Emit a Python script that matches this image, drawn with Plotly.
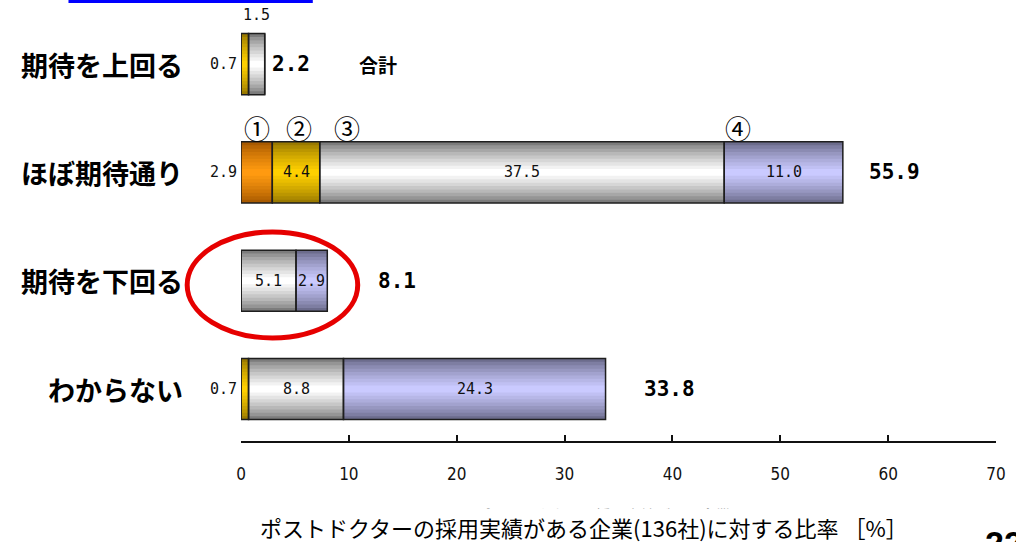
import plotly.graph_objects as go

# Survey categories (rows, top to bottom)
categories = ["期待を上回る", "ほぼ期待通り", "期待を下回る", "わからない"]

# Stacked segment values per series (①..④), one value per category
series_marks = ["①", "②", "③", "④"]
s1_values = [0.0, 2.9, 0.0, 0.0]
s2_values = [0.7, 4.4, 0.0, 0.7]
s3_values = [1.5, 37.5, 5.1, 8.8]
s4_values = [0.0, 11.0, 2.9, 24.3]
totals = [2.2, 55.9, 8.1, 33.8]

x_ticks = [0, 10, 20, 30, 40, 50, 60, 70]

series = [s1_values, s2_values, s3_values, s4_values]

# (edge colour, centre colour) for the cylinder-like shading of each series
palette = [
    ("#a85a00", "#ff9a10"),
    ("#9a7a00", "#ffd000"),
    ("#7c7c7c", "#ffffff"),
    ("#6c6c8c", "#cacaff"),
]

BAR_W = 0.565
N_LAYERS = 9


def hex_to_rgb(h):
    h = h.lstrip("#")
    return tuple(int(h[i:i + 2], 16) for i in (0, 2, 4))


def lerp_color(a, b, t):
    ca, cb = hex_to_rgb(a), hex_to_rgb(b)
    c = [round(ca[i] + (cb[i] - ca[i]) * t) for i in range(3)]
    return "rgb(%d,%d,%d)" % tuple(c)


# cumulative bases for stacking
bases = []
run = [0.0] * len(categories)
for vals in series:
    bases.append(list(run))
    run = [r + v for r, v in zip(run, vals)]

fig = go.Figure()

# shaded layers: outer (dark) first, inner (light) last
for k in range(N_LAYERS):
    frac = 1 - k / N_LAYERS
    t = (k / (N_LAYERS - 1)) ** 0.8
    for si, vals in enumerate(series):
        edge, centre = palette[si]
        fig.add_trace(go.Bar(
            y=categories, x=vals, base=bases[si], orientation="h",
            width=BAR_W * frac,
            marker=dict(color=lerp_color(edge, centre, t), line=dict(width=0)),
            hoverinfo="skip", showlegend=False,
        ))

# outlines on top of the shading
for si, vals in enumerate(series):
    fig.add_trace(go.Bar(
        y=categories, x=vals, base=bases[si], orientation="h",
        width=BAR_W, name=series_marks[si],
        marker=dict(color="rgba(0,0,0,0)", line=dict(color="#1e1e1e", width=1.5)),
        showlegend=False,
    ))

annotations = []
val_font = dict(family="DejaVu Sans Mono", size=15, color="#111111")

# where a segment label sits when the segment is too thin for it
label_place = {(1, 0): "left", (2, 0): "above", (0, 1): "left", (1, 3): "left"}

for si, vals in enumerate(series):
    for ri, v in enumerate(vals):
        if v <= 0:
            continue
        mode = label_place.get((si, ri), "in")
        txt = "%.1f" % v
        if mode == "in":
            annotations.append(dict(x=bases[si][ri] + v / 2, y=categories[ri], text=txt,
                                    showarrow=False, font=val_font))
        elif mode == "left":
            annotations.append(dict(x=bases[si][ri], y=categories[ri], text=txt,
                                    xanchor="right", xshift=-2, showarrow=False, font=val_font))
        else:
            annotations.append(dict(x=bases[si][ri] + v / 2, y=categories[ri], text=txt,
                                    yshift=49, showarrow=False, font=val_font))

# totals to the right of each bar
total_shift = [5, 23, 48, 36]
for ri, tot in enumerate(totals):
    annotations.append(dict(x=tot, y=categories[ri], text="<b>%.1f</b>" % tot,
                            xanchor="left", xshift=total_shift[ri], showarrow=False,
                            font=dict(family="DejaVu Sans Mono", size=21, color="#000000")))

annotations.append(dict(x=12.7, y=categories[0], text="<b>合計</b>", showarrow=False,
                        font=dict(family="Noto Sans CJK JP", size=19, color="#000000")))

# series markers above the second row
mark_x = [
    bases[0][1] + s1_values[1] / 2,
    bases[1][1] + s2_values[1] / 2 + 0.3,
    bases[2][1] + 2.5,
    bases[3][1] + 1.3,
]
for m, mx in zip(series_marks, mark_x):
    annotations.append(dict(x=mx, y=categories[1], text=m, yshift=45, showarrow=False,
                            font=dict(family="Noto Sans CJK JP", size=26, color="#000000")))

# category labels on the left
for ri, cat in enumerate(categories):
    annotations.append(dict(x=-0.074, xref="paper", y=cat, text="<b>%s</b>" % cat,
                            xanchor="right", yanchor="middle", showarrow=False,
                            font=dict(family="Noto Sans CJK JP", size=27, color="#000000")))

# underlying axis caption, mostly hidden behind the caption box below
annotations.append(dict(x=0.48, xref="paper", y=-0.170, yref="paper",
                        xanchor="center", yanchor="middle",
                        text="ポストドクターの採用実績がある企業", showarrow=False,
                        font=dict(family="Noto Sans CJK JP", size=15, color="#555555")))

# axis caption
annotations.append(dict(x=0.454, xref="paper", y=-0.1995, yref="paper",
                        xanchor="center", yanchor="middle",
                        text="ポストドクターの採用実績がある企業(136社)に対する比率 ［%］",
                        showarrow=False, bgcolor="#ffffff", borderpad=2,
                        font=dict(family="Noto Sans CJK JP", size=22, color="#000000")))

# page number at the lower right corner
annotations.append(dict(x=0.983, xref="paper", y=-0.188, yref="paper", text="<b>22</b>",
                        xanchor="left", yanchor="top", showarrow=False,
                        font=dict(family="Liberation Sans", size=34, color="#000000")))

shapes = [
    # highlight ring around the third row
    dict(type="circle", xref="paper", yref="paper",
         x0=-0.0713, x1=0.1546, y0=0.239, y1=0.485,
         line=dict(color="#e60000", width=5)),
    # blue rule at the top
    dict(type="line", xref="paper", yref="paper",
         x0=-0.2285, x1=0.0951, y0=1.0197, y1=1.0197,
         line=dict(color="#0000ff", width=3)),
]

fig.update_layout(
    width=1016, height=542,
    margin=dict(l=241, r=18, t=10, b=101),
    paper_bgcolor="#ffffff", plot_bgcolor="#ffffff",
    barmode="overlay",
    showlegend=False,
    annotations=annotations,
    shapes=shapes,
    xaxis=dict(
        range=[0, 70], tickvals=x_ticks, ticktext=[str(v) for v in x_ticks],
        showgrid=False, zeroline=False,
        showline=True, linecolor="#111111", linewidth=1.5,
        ticks="inside", ticklen=6, tickwidth=1.5, tickcolor="#111111",
        ticklabelstandoff=17,
        tickfont=dict(family="DejaVu Sans Condensed, DejaVu Sans Mono", size=17, color="#111111"),
    ),
    yaxis=dict(
        categoryorder="array", categoryarray=categories,
        range=[3.48, -0.5],
        showgrid=False, zeroline=False, showline=False,
        showticklabels=False, ticks="",
    ),
)

fig.write_html("out.html")
